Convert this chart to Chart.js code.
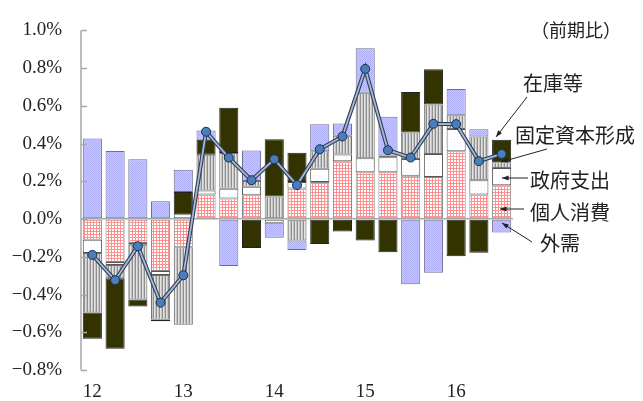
<!DOCTYPE html>
<html>
<head>
<meta charset="utf-8">
<script src="https://cdn.jsdelivr.net/npm/chart.js@4"></script>
<style>
  body { margin: 0; background: #fff; }
  #wrap { width: 643px; height: 401px; }
</style>
</head>
<body>
<div id="wrap"><canvas id="chart1" width="643" height="401"></canvas></div>
<script>
const quarters = ['12Q1','12Q2','12Q3','12Q4','13Q1','13Q2','13Q3','13Q4','14Q1','14Q2','14Q3','14Q4','15Q1','15Q2','15Q3','15Q4','16Q1','16Q2','16Q3'];

// 寄与度 (%)
const consumption = [-0.11, -0.228, -0.127, -0.275, -0.15, 0.13, 0.109, 0.126, 0, 0.162, 0.197, 0.307, 0.248, 0.248, 0.23, 0.223, 0.36, 0.13, 0.179];
const government  = [-0.07, -0.016, -0.009, -0.021, 0.025, 0.022, 0.052, 0.045, -0.02, 0.035, 0.07, 0.035, 0.075, 0.08, 0.089, 0.122, 0.117, 0.076, 0.092];
const investment  = [-0.315, -0.07, -0.29, -0.238, -0.41, 0.189, 0.189, 0.031, 0.12, -0.114, 0.093, 0.1, 0.346, 0.009, 0.14, 0.262, 0.073, 0.232, 0.03];
const inventory   = [-0.14, -0.374, -0.037, -0.007, 0.119, 0.08, 0.24, -0.153, 0.303, 0.155, -0.132, -0.066, -0.113, -0.176, 0.215, 0.187, -0.197, -0.179, 0.119];
const netExports  = [0.427, 0.361, 0.317, 0.095, 0.117, 0.049, -0.249, 0.161, -0.079, -0.05, 0.143, 0.064, 0.236, 0.205, -0.345, -0.284, 0.14, 0.038, -0.071];
const gdp         = [-0.19, -0.324, -0.144, -0.443, -0.298, 0.463, 0.326, 0.206, 0.317, 0.18, 0.37, 0.438, 0.796, 0.365, 0.326, 0.505, 0.503, 0.307, 0.345];

const yTicks = [-0.8, -0.6, -0.4, -0.2, 0, 0.2, 0.4, 0.6, 0.8, 1.0];

const canvas = document.getElementById('chart1');
const ctx = canvas.getContext('2d');

const makePattern = (w, h, draw) => {
    const c = document.createElement('canvas');
    c.width = w;
    c.height = h;
    draw(c.getContext('2d'));
    return ctx.createPattern(c, 'repeat');
}

const redGrid = makePattern(3, 3, (g) => {
    g.fillStyle = '#ffffff';
    g.fillRect(0, 0, 3, 3);
    g.fillStyle = '#ff9090';
    g.fillRect(0, 0, 3, 1);
    g.fillRect(0, 0, 1, 3);
});
const grayStripe = makePattern(3, 1, (g) => {
    g.fillStyle = '#8e8e8e'; g.fillRect(0, 0, 1, 1);
    g.fillStyle = '#e2e2e2'; g.fillRect(1, 0, 1, 1);
    g.fillStyle = '#c4c4c4'; g.fillRect(2, 0, 1, 1);
});
const blueDots = makePattern(2, 2, (g) => {
    g.fillStyle = '#c6c6ff'; g.fillRect(0, 0, 2, 2);
    g.fillStyle = '#b0b0f8'; g.fillRect(0, 0, 1, 1); g.fillRect(1, 1, 1, 1);
});
const whiteDots = makePattern(3, 3, (g) => {
    g.fillStyle = '#ffffff'; g.fillRect(0, 0, 3, 3);
    g.fillStyle = '#f0f0fa'; g.fillRect(1, 1, 1, 1);
});

const jpFont = '"Noto Sans CJK JP", "Noto Sans", sans-serif';
const numFont = "'Liberation Serif', 'DejaVu Serif', serif";
Chart.defaults.font.family = numFont;

// y軸の内向き目盛り
const innerTicks = {
    id: 'innerTicks',
    afterDatasetsDraw(chart) {
        const y = chart.scales.y;
        const left = chart.chartArea.left;
        const c = chart.ctx;
        c.save();
        c.strokeStyle = '#a8a8a8';
        c.lineWidth = 1.5;
        c.beginPath();
        c.moveTo(left, y.getPixelForValue(1.0));
        c.lineTo(left, y.getPixelForValue(-0.8));
        yTicks.forEach((v) => {
            const py = Math.round(y.getPixelForValue(v)) + 0.5;
            c.moveTo(left, py);
            c.lineTo(left + 6, py);
        });
        c.stroke();
        c.restore();
    }
};

const arrow = (c, x1, y1, x2, y2) => {
    c.beginPath();
    c.moveTo(x1, y1);
    c.lineTo(x2, y2);
    c.stroke();
    const a = Math.atan2(y2 - y1, x2 - x1);
    c.beginPath();
    c.moveTo(x2, y2);
    c.lineTo(x2 - 7 * Math.cos(a - 0.35), y2 - 7 * Math.sin(a - 0.35));
    c.lineTo(x2 - 7 * Math.cos(a + 0.35), y2 - 7 * Math.sin(a + 0.35));
    c.closePath();
    c.fill();
}

const notes = {
    id: 'notes',
    afterDraw(chart) {
        const c = chart.ctx;
        c.save();
        c.fillStyle = '#222';
        c.strokeStyle = '#222';
        c.lineWidth = 1;
        c.textBaseline = 'middle';
        c.textAlign = 'left';
        c.font = '18px ' + jpFont;
        c.fillText('（前期比）', 531, 30);
        c.font = '20px ' + jpFont;
        c.fillText('在庫等', 523, 83);
        c.fillText('固定資本形成', 515, 135);
        c.fillText('政府支出', 530, 180);
        c.fillText('個人消費', 530, 212);
        c.fillText('外需', 540, 243);
        arrow(c, 527, 97, 496, 137);
        arrow(c, 547, 149, 501, 162);
        arrow(c, 528, 178, 502, 178);
        arrow(c, 524, 209, 500, 209);
        arrow(c, 532, 242, 502, 223);
        c.restore();
    }
};

const bar = (label, data, bg, border) => ({
    type: 'bar',
    label: label,
    data: data,
    backgroundColor: bg,
    borderColor: border,
    borderWidth: 1,
    borderSkipped: false,
    categoryPercentage: 1,
    barPercentage: 0.84,
    order: 2
});

const data = {
    labels: quarters,
    datasets: [
        {
            type: 'line', label: 'GDP', data: gdp, stack: 'l1', order: 1,
            borderColor: '#2c3d5a', borderWidth: 4, pointRadius: 0, fill: false
        },
        {
            type: 'line', label: 'GDP2', data: gdp, stack: 'l2', order: 0,
            borderColor: '#a8b8d0', borderWidth: 1.8, fill: false,
            pointRadius: 4.5, pointBackgroundColor: '#4a7dbb',
            pointBorderColor: '#1d2d48', pointBorderWidth: 1
        },
        bar('個人消費', consumption, redGrid, '#8a8a8a'),
        bar('政府支出', government, whiteDots, '#555'),
        bar('固定資本形成', investment, grayStripe, '#707070'),
        bar('在庫等', inventory, '#333300', '#222'),
        bar('外需', netExports, blueDots, '#6e6e8a')
    ]
};

const config = {
    data: data,
    options: {
        responsive: false,
        animation: false,
        devicePixelRatio: 1,
        layout: { padding: { top: 27, right: 130, left: 0, bottom: 0 } },
        plugins: { legend: { display: false }, tooltip: { enabled: false } },
        scales: {
            x: {
                stacked: true,
                offset: true,
                border: { display: false },
                grid: { display: false },
                ticks: {
                    autoSkip: false,
                    maxRotation: 0,
                    padding: 3,
                    color: '#222',
                    font: { family: numFont, size: 19 },
                    callback: function(v) {
                        const q = quarters[v];
                        return q.endsWith('Q1') ? q.slice(0, 2) : '';
                    }
                },
                afterFit: (s) => { s.height = 31; }
            },
            y: {
                stacked: true,
                min: -0.8,
                max: 1.0,
                border: { display: false },
                grid: {
                    drawTicks: false,
                    color: (c) => (c.tick && Math.abs(c.tick.value) < 1e-9) ? '#a8a8a8' : 'rgba(0,0,0,0)',
                    lineWidth: 1.5
                },
                afterBuildTicks: (s) => { s.ticks = yTicks.map((v) => ({ value: v })); },
                ticks: {
                    padding: 19,
                    color: '#222',
                    font: { family: numFont, size: 19 },
                    callback: (v) => (v < -1e-9 ? '\u2212' : '') + Math.abs(v).toFixed(1) + '%'
                },
                afterFit: (s) => { s.width = 81; }
            }
        }
    },
    plugins: [innerTicks, notes]
};

new Chart(canvas, config);
</script>
</body>
</html>
